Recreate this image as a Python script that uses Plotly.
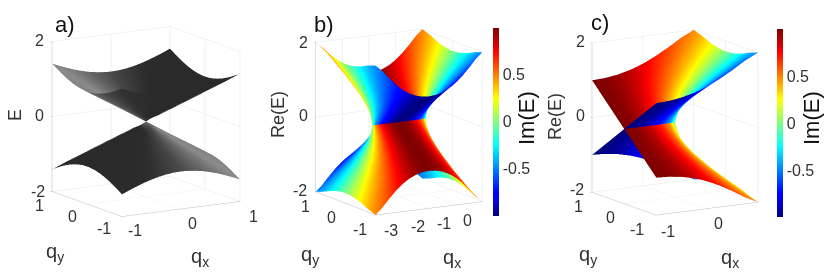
import numpy as np
import plotly.graph_objects as go

W, H = 830, 277
FONT = "Liberation Sans"
INK = "#333333"

# Panel a: |E| on one quadrant
A_GRID = [0, .125, .25, .375, .5, .625, .75, .875, 1]
A_E = [
    [0, .125, .25, .375, .5, .625, .75, .875, 1],
    [.125, .177, .28, .395, .515, .637, .76, .884, 1.008],
    [.25, .28, .354, .451, .559, .673, .791, .91, 1.031],
    [.375, .395, .451, .53, .625, .728, .839, .952, 1.068],
    [.5, .515, .559, .625, .707, .8, .901, 1.008, 1.118],
    [.625, .637, .673, .728, .8, .884, .976, 1.075, 1.179],
    [.75, .76, .791, .839, .901, .976, 1.061, 1.152, 1.25],
    [.875, .884, .91, .952, 1.008, 1.075, 1.152, 1.237, 1.329],
    [1, 1.008, 1.031, 1.068, 1.118, 1.179, 1.25, 1.329, 1.414],
]
# Panel a shading: gray level by direction around the apex
SHADE_DEG = [0, 60, 90, 117, 135, 160, 180, 207, 225, 250, 360]
SHADE_GRAY = [42, 44, 72, 112, 140, 128, 108, 72, 48, 42, 42]

# Panels b, c: Re(E), Im(E) on one quadrant: distance from arc centre, and qy
D_GRID = [0, .25, .5, .75, .9, 1, 1.1, 1.25, 1.5, 1.75, 2]
Q_GRID = [0, .05, .1, .2, .35, .5, .75, 1]
RE_Q = [
    [0, 0, 0, 0, 0, 0, .458, .75, 1.118, 1.436, 1.732],
    [.05, .052, .058, .075, .112, .226, .473, .755, 1.12, 1.437, 1.733],
    [.1, .103, .115, .149, .211, .324, .509, .768, 1.126, 1.441, 1.736],
    [.2, .206, .229, .288, .372, .47, .601, .814, 1.149, 1.457, 1.747],
    [.35, .36, .395, .476, .564, .645, .744, .912, 1.207, 1.497, 1.778],
    [.5, .513, .556, .644, .729, .8, .883, 1.025, 1.285, 1.554, 1.824],
    [.75, .765, .814, .903, .979, 1.04, 1.109, 1.225, 1.443, 1.681, 1.927],
    [1, 1.016, 1.064, 1.149, 1.218, 1.272, 1.332, 1.432, 1.622, 1.833, 2.0],
]
IM_Q = [
    [1, .968, .866, .661, .436, 0, 0, 0, 0, 0, 0],
    [1, .969, .864, .665, .447, .221, .106, .066, .045, .035, .029],
    [1, .968, .867, .67, .474, .308, .197, .13, .089, .069, .058],
    [1, .97, .873, .693, .537, .425, .333, .246, .174, .137, .114],
    [1, .972, .885, .736, .621, .542, .47, .384, .29, .234, .197],
    [1, .975, .899, .776, .686, .625, .566, .488, .389, .322, .274],
    [1, .98, .922, .831, .766, .721, .676, .612, .52, .446, .389],
    [1, .984, .94, .87, .821, .786, .751, .698, .617, .546, .486],
]
QX_OFFSET = -1  # arc centre lies at qx = -1 in panels b and c

CB_TICKS = [-0.5, 0, 0.5]
CB_LABELS = ["-0.5", "0", "0.5"]
JET = [[0, "#00007f"], [.11, "#0000ff"], [.125, "#0000ff"], [.375, "#00ffff"], [.5, "#7fff7f"],
       [.625, "#ffff00"], [.875, "#ff0000"], [1, "#7f0000"]]


def scene_layout(xr, xt, yr, yt, zt, aspect, eye, center):
    common = dict(
        title=dict(text=""), showbackground=False, gridcolor="#e6e6e6", gridwidth=1,
        showline=True, linecolor="#bdbdbd", linewidth=1, zeroline=False,
        ticks="outside", ticklen=2, tickcolor="#bdbdbd", autorange=False,
        showticklabels=False, showspikes=False,
    )
    return dict(
        xaxis=dict(common, range=xr, tickvals=xt),
        yaxis=dict(common, range=yr, tickvals=yt),
        zaxis=dict(common, range=[-2, 2], tickvals=zt),
        aspectmode="manual", aspectratio=dict(x=aspect[0], y=aspect[1], z=aspect[2]),
        camera=dict(projection=dict(type="orthographic"), eye=eye, center=center, up=dict(x=0, y=0, z=1)),
    )


fig = go.Figure()
FLAT = dict(ambient=1, diffuse=0, specular=0, roughness=1, fresnel=0)

# Panel a
g = np.array(A_GRID)
e_q = np.array(A_E)
full = np.hstack([np.fliplr(e_q[:, 1:]), e_q])
full = np.vstack([np.flipud(full[1:, :]), full])
gf = np.concatenate([-g[:0:-1], g])
xx, yy_a = np.meshgrid(gf, gf)
theta = np.degrees(np.arctan2(yy_a, xx)) % 360
GRAY = [[0, "#000000"], [1, "#ffffff"]]
for sgn, rot in ((1, 0), (-1, 180)):
    shade = np.interp((theta + rot) % 360, SHADE_DEG, SHADE_GRAY)
    fig.add_trace(go.Surface(x=gf, y=gf, z=sgn * full, surfacecolor=shade, cmin=0, cmax=255, scene="scene",
                             colorscale=GRAY, showscale=False, lighting=FLAT, hoverinfo="skip"))

# Panels b and c
d = np.array(D_GRID)
q = np.array(Q_GRID)
re_q = np.array(RE_Q)
im_q = np.array(IM_Q)


def sheets(scene, dx, re, im, cbx, cby):
    qx = dx + QX_OFFSET
    for i, (yy, zz, cc) in enumerate([(q, re, im), (-q, re, -im), (q, -re, -im), (-q, -re, im)]):
        kw = dict(showscale=False)
        if i == 0:
            kw = dict(showscale=True, colorbar=dict(
                x=cbx / W, xanchor="left", y=(H - cby) / H, yanchor="middle", len=188 / H, lenmode="fraction",
                thickness=6, thicknessmode="pixels", outlinewidth=0, xpad=0, ypad=0, tickvals=CB_TICKS,
                ticktext=CB_LABELS, ticks="", tickfont=dict(family=FONT, size=16, color=INK)))
        fig.add_trace(go.Surface(x=qx, y=yy, z=zz, surfacecolor=cc, scene=scene, cmin=-1, cmax=1,
                                 colorscale=JET, lighting=FLAT, hoverinfo="skip", **kw))


d_full = np.concatenate([-d[:0:-1], d])
re_full = np.hstack([np.fliplr(re_q[:, 1:]), re_q])
im_full = np.hstack([np.fliplr(im_q[:, 1:]), im_q])
sheets("scene2", d_full, re_full, im_full, 493, 121.5)
sheets("scene3", d, re_q, im_q, 777, 123)

PANELS = [
    dict(name="scene", cx=146, cy=121, xr=[-1, 1], xt=[-1, 0, 1], yr=[-1, 1], yt=[-1, 0, 1], zt=[-2, 0, 2],
         asp=(1.033, 1.028, 1.154), phi=30.8, el=12.3),
    dict(name="scene2", cx=398.5, cy=121.5, xr=[-3, 1], xt=[-3, -2, -1, 0], yr=[-1, 1], yt=[-1, 0, 1],
         zt=[-2, 0, 2], asp=(.922, .913, 1.151), phi=29.6, el=12.7),
    dict(name="scene3", cx=675, cy=122, xr=[-1, 1], xt=[-1, 0], yr=[-1, 1], yt=[-1, 0, 1],
         zt=[-2, 0, 2], asp=(.892, .939, 1.15), phi=31, el=12.3),
]
layout = {}
HALF = 125
R = 2.1
S = 133
for p in PANELS:
    ph, el = np.radians(p["phi"]), np.radians(p["el"])
    cz = (p["cy"] - 138.5) / (S * np.cos(el))
    center = dict(x=0, y=0, z=cz)
    eye = dict(x=-np.sin(ph) * np.cos(el) * R, y=-np.cos(ph) * np.cos(el) * R, z=np.sin(el) * R + cz)
    s = scene_layout(p["xr"], p["xt"], p["yr"], p["yt"], p["zt"], p["asp"], eye, center)
    s["domain"] = dict(x=[(p["cx"] - HALF) / W, (p["cx"] + HALF) / W], y=[0.02, 0.98])
    layout[p["name"]] = s


def note(text, x, y, size, angle=0, dark=False):
    return dict(text=text, x=x / W, y=(H - y) / H, xref="paper", yref="paper", showarrow=False,
                xanchor="center", yanchor="middle", textangle=angle,
                font=dict(family=FONT, size=size, color="#111111" if dark else INK))


def tick(text, ox, zx, zy):
    return note(text, ox + zx / 3, zy / 3, 16)


notes = [
    note("a)", 65, 24, 22, dark=True), note("E", 15, 115, 18, -90),
    note("q<sub>y</sub>", 55, 252, 20), note("q<sub>x</sub>", 200, 257, 20),
    note("b)", 324, 24, 22, dark=True), note("Re(E)", 278, 115, 18, -90),
    note("q<sub>y</sub>", 310, 255, 20), note("q<sub>x</sub>", 452, 258, 20),
    note("Im(E)", 527, 118, 22, -90, dark=True),
    note("c)", 600, 23, 22, dark=True), note("Re(E)", 555, 117, 18, -90),
    note("q<sub>y</sub>", 588, 255, 20), note("q<sub>x</sub>", 730, 258, 20),
    note("Im(E)", 812, 118, 22, -90, dark=True),
]
TICKS_A = [("2", 118, 120), ("0", 118, 348), ("-2", 115, 575), ("1", 118, 617), ("0", 217, 650), ("-1", 312, 685),
           ("-1", 405, 690), ("0", 578, 672), ("1", 760, 648)]
TICKS_B = [("2", 115, 127), ("0", 115, 347), ("-2", 105, 570), ("1", 122, 618), ("0", 200, 652), ("-1", 285, 688),
           ("-3", 378, 692), ("-2", 458, 680), ("-1", 537, 672), ("0", 608, 660)]
TICKS_C = [("2", 105, 125), ("0", 105, 347), ("-2", 95, 568), ("1", 100, 618), ("0", 195, 652), ("-1", 275, 688),
           ("-1", 368, 695), ("0", 520, 672)]
for ox, tt in ((0, TICKS_A), (265, TICKS_B), (545, TICKS_C)):
    notes += [tick(t, ox, zx, zy) for t, zx, zy in tt]

fig.update_layout(width=W, height=H, margin=dict(l=0, r=0, t=0, b=0), paper_bgcolor="white",
                  showlegend=False, annotations=notes, **layout)
fig.write_html("out.html", config={"displayModeBar": False}, post_script="document.body.style.margin='0';")
